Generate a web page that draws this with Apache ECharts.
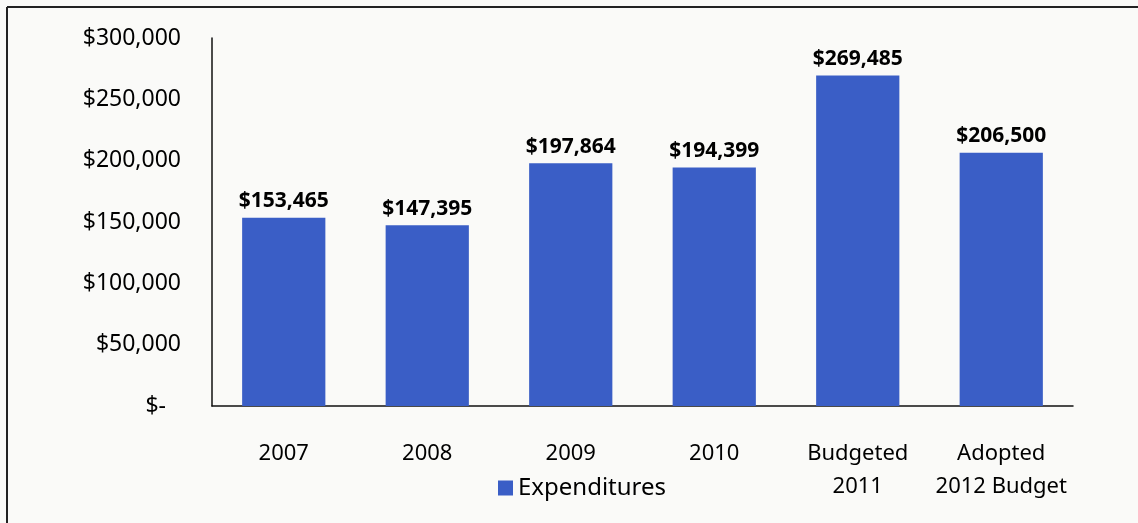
<!DOCTYPE html>
<html>
<head>
<meta charset="utf-8">
<style>
  html, body { margin: 0; padding: 0; background: #fafaf8; }
  #chart { width: 1138px; height: 523px; }
</style>
<script src="https://cdn.jsdelivr.net/npm/echarts@6/dist/echarts.min.js"></script>
</head>
<body>
<div id="chart"></div>
<script>
const categories = ['2007', '2008', '2009', '2010', 'Budgeted\n2011', 'Adopted\n2012 Budget'];
const expenditures = [153465, 147395, 197864, 194399, 269485, 206500];
const seriesName = 'Expenditures';

const FONT = '"Noto Sans", "Open Sans", sans-serif';
const BAR = '#3a5ec6';

function money(v) {
  if (v === 0) return '$-';
  return '$' + v.toLocaleString('en-US');
}

const chart = echarts.init(document.getElementById('chart'), null, { renderer: 'canvas' });
chart.setOption({
  backgroundColor: '#fafaf8',
  animation: false,
  grid: { left: 212, right: 65, top: 38, bottom: 117, containLabel: false },
  legend: {
    data: [seriesName],
    left: 493, top: 471,
    itemWidth: 15, itemHeight: 15, itemGap: 8,
    icon: 'rect',
    textStyle: { fontFamily: FONT, fontSize: 24, color: '#000' }
  },
  xAxis: {
    type: 'category',
    data: categories,
    axisLine: { lineStyle: { color: '#111', width: 1.5 } },
    axisTick: { show: false },
    axisLabel: {
      fontFamily: FONT, fontSize: 22, color: '#000',
      margin: 31, lineHeight: 33, interval: 0
    }
  },
  yAxis: {
    type: 'value',
    min: 0, max: 300000, interval: 50000,
    axisLine: { show: true, lineStyle: { color: '#111', width: 1.5 } },
    axisTick: { show: false },
    splitLine: { show: false },
    axisLabel: {
      fontFamily: FONT, fontSize: 23, color: '#000', margin: 31,
      formatter: function (v) {
        return v === 0 ? '{z|$-}' : money(v);
      },
      rich: {
        z: { fontFamily: FONT, fontSize: 23, color: '#000', padding: [0, 15, 0, 0] }
      }
    }
  },
  series: [{
    name: seriesName,
    type: 'bar',
    data: expenditures,
    barWidth: '58%',
    itemStyle: { color: BAR },
    label: {
      show: true, position: 'top', distance: 6,
      fontFamily: FONT, fontSize: 21, fontWeight: 'bold', color: '#000',
      formatter: function (p) { return money(p.value); }
    }
  }],
  graphic: [
    { type: 'line', shape: { x1: 7, y1: 7, x2: 1138, y2: 7 }, style: { stroke: '#222', lineWidth: 2 } },
    { type: 'line', shape: { x1: 7, y1: 7, x2: 7, y2: 523 }, style: { stroke: '#222', lineWidth: 2 } }
  ]
});
</script>
</body>
</html>
